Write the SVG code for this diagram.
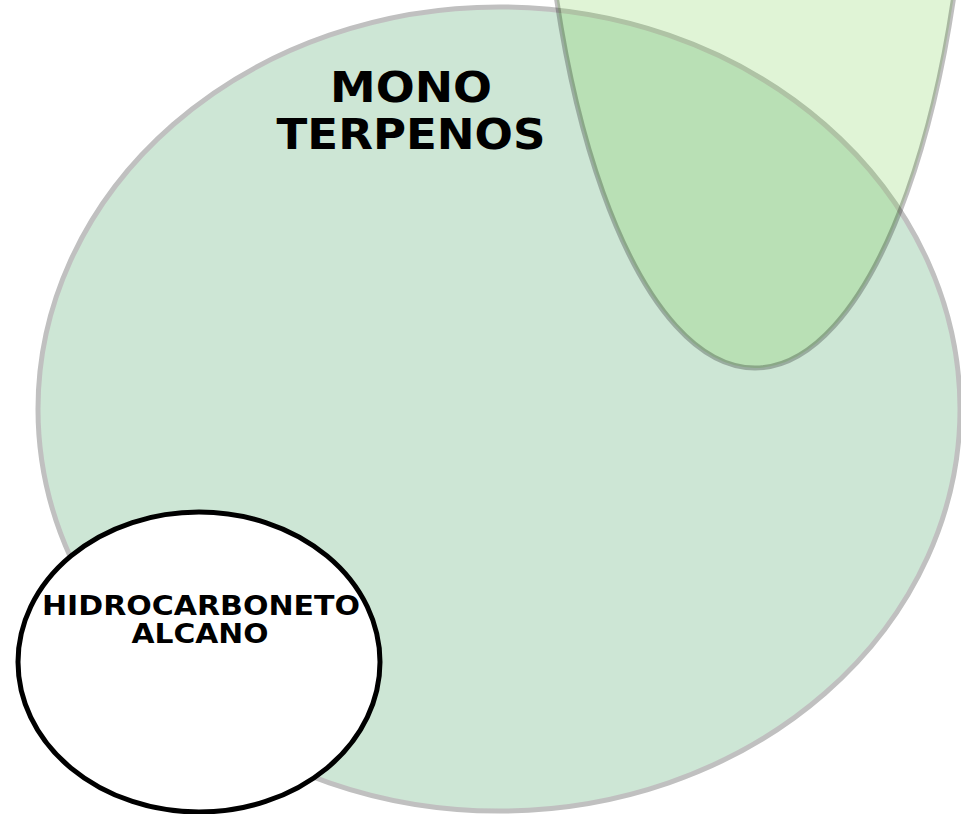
<svg xmlns="http://www.w3.org/2000/svg" width="961" height="814" viewBox="0 0 961 814">
<style>
.lbl{font-family:"DejaVu Sans","Liberation Sans",sans-serif;font-weight:bold;fill:#000;text-anchor:middle}
.set{stroke:#000;stroke-opacity:0.25;stroke-width:5}
</style>
<rect width="961" height="814" fill="#fff"/>
<g id="monoterpenos">
<ellipse cx="499" cy="409" rx="461" ry="402" fill="#cde6d5" stroke="#c0c0c0" stroke-width="5"/>
<text class="lbl" x="411" y="102" font-size="43" textLength="162" lengthAdjust="spacingAndGlyphs">MONO</text>
<text class="lbl" x="411" y="149" font-size="43" textLength="269" lengthAdjust="spacingAndGlyphs">TERPENOS</text>
</g>
<g id="top-set">
<ellipse class="set" cx="755" cy="-232" rx="215" ry="600" fill="#72cd45" fill-opacity="0.22"/>
</g>
<g id="hidrocarboneto">
<ellipse cx="199" cy="662" rx="181" ry="150" fill="#fff" stroke="#000" stroke-width="5"/>
<text class="lbl" x="201" y="615" font-size="27" textLength="318" lengthAdjust="spacingAndGlyphs">HIDROCARBONETO</text>
<text class="lbl" x="200" y="643" font-size="27" textLength="137" lengthAdjust="spacingAndGlyphs">ALCANO</text>
</g>
<g id="connectors"/>
</svg>
